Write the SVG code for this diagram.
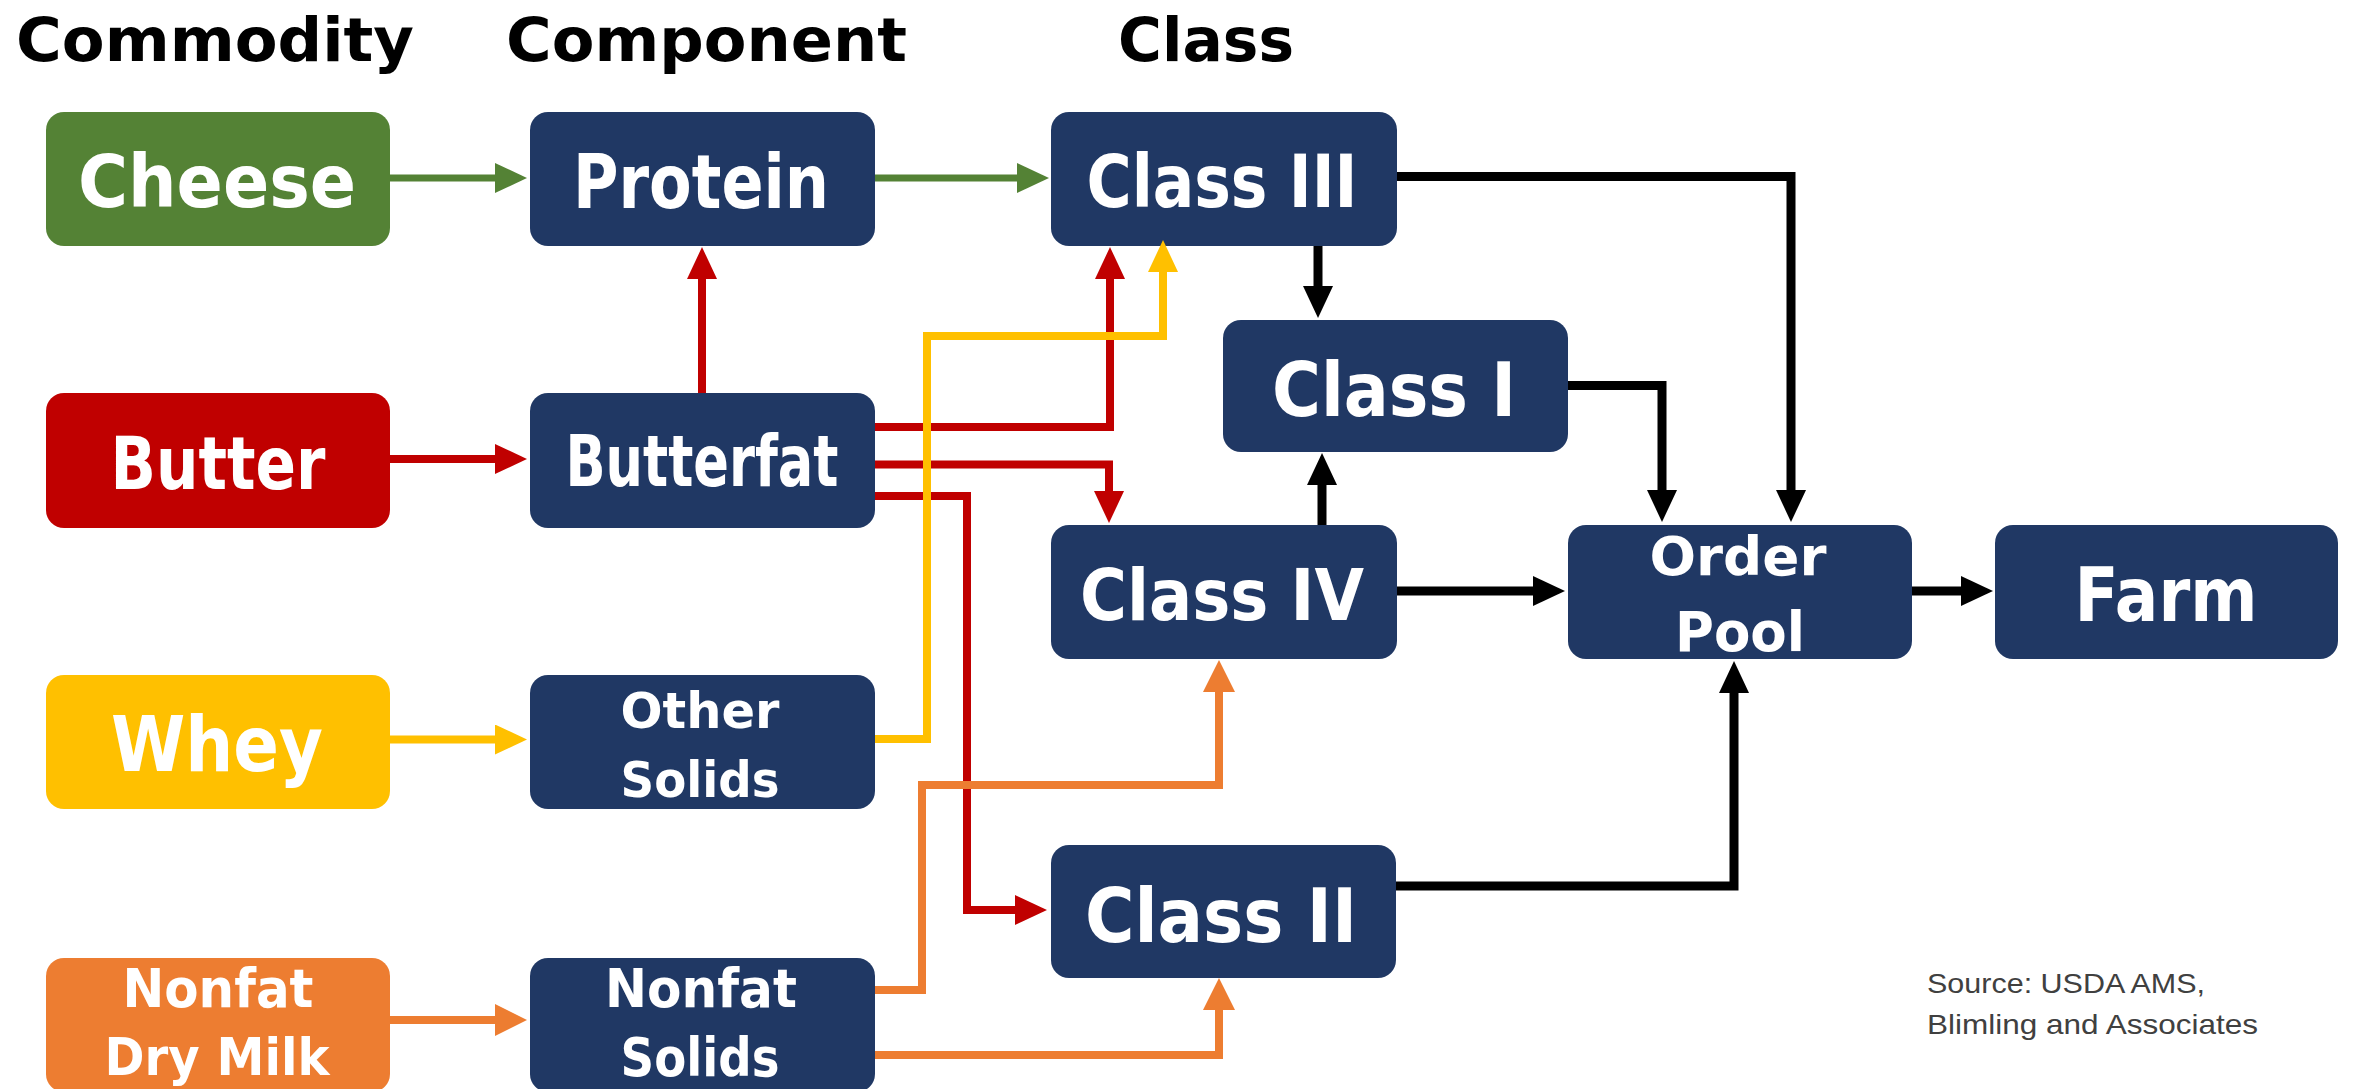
<svg xmlns="http://www.w3.org/2000/svg" width="2356" height="1089" viewBox="0 0 2356 1089">
<style>
.lbl { font-family: "DejaVu Sans", "Liberation Sans", sans-serif; font-weight: bold; fill: #ffffff; text-anchor: middle; }
.ttl { font-family: "DejaVu Sans", "Liberation Sans", sans-serif; font-weight: bold; fill: #000000; }
.src { font-family: "Liberation Sans", Arial, sans-serif; fill: #404040; font-size: 28px; }
.navy { fill: #203864; }
.c { fill: none; stroke-linejoin: miter; stroke-linecap: butt; }
.g { stroke: #548235; stroke-width: 7; }
.r { stroke: #C00000; stroke-width: 8; }
.y { stroke: #FFC000; stroke-width: 8; }
.o { stroke: #ED7D31; stroke-width: 8; }
.k { stroke: #000000; stroke-width: 9; }
</style>
<defs>
<marker id="ahG" markerUnits="userSpaceOnUse" markerWidth="32" markerHeight="30" refX="8" refY="15" orient="auto"><path d="M0,0 L32,15 L0,30 Z" fill="#548235"/></marker>
<marker id="ahR" markerUnits="userSpaceOnUse" markerWidth="32" markerHeight="30" refX="8" refY="15" orient="auto"><path d="M0,0 L32,15 L0,30 Z" fill="#C00000"/></marker>
<marker id="ahY" markerUnits="userSpaceOnUse" markerWidth="32" markerHeight="30" refX="8" refY="15" orient="auto"><path d="M0,0 L32,15 L0,30 Z" fill="#FFC000"/></marker>
<marker id="ahO" markerUnits="userSpaceOnUse" markerWidth="32" markerHeight="32" refX="8" refY="16" orient="auto"><path d="M0,0 L32,16 L0,32 Z" fill="#ED7D31"/></marker>
<marker id="ahK" markerUnits="userSpaceOnUse" markerWidth="32" markerHeight="30" refX="8" refY="15" orient="auto"><path d="M0,0 L32,15 L0,30 Z" fill="#000000"/></marker>
</defs>
<rect x="0" y="0" width="2356" height="1089" fill="#ffffff"/>

<g id="titles">
<text class="ttl" x="16" y="61" font-size="61" textLength="398" lengthAdjust="spacingAndGlyphs">Commodity</text>
<text class="ttl" x="506" y="61" font-size="61" textLength="401" lengthAdjust="spacingAndGlyphs">Component</text>
<text class="ttl" x="1118" y="61" font-size="61" textLength="176" lengthAdjust="spacingAndGlyphs">Class</text>
</g>

<g id="node-cheese"><rect x="46" y="112" width="344" height="134" rx="18" fill="#548235"/><text class="lbl" x="217" y="207" font-size="73" textLength="278" lengthAdjust="spacingAndGlyphs">Cheese</text></g>
<g id="node-butter"><rect x="46" y="393" width="344" height="135" rx="18" fill="#C00000"/><text class="lbl" x="218" y="489" font-size="73" textLength="215" lengthAdjust="spacingAndGlyphs">Butter</text></g>
<g id="node-whey"><rect x="46" y="675" width="344" height="134" rx="18" fill="#FFC000"/><text class="lbl" x="217" y="771" font-size="76" textLength="212" lengthAdjust="spacingAndGlyphs">Whey</text></g>
<g id="node-ndm"><rect x="46" y="958" width="344" height="134" rx="18" fill="#ED7D31"/><text class="lbl" x="218" y="1007" font-size="53" textLength="191" lengthAdjust="spacingAndGlyphs">Nonfat</text><text class="lbl" x="217" y="1075" font-size="52" textLength="225" lengthAdjust="spacingAndGlyphs">Dry Milk</text></g>

<g id="node-protein"><rect class="navy" x="530" y="112" width="345" height="134" rx="18"/><text class="lbl" x="701" y="208" font-size="74" textLength="256" lengthAdjust="spacingAndGlyphs">Protein</text></g>
<g id="node-butterfat"><rect class="navy" x="530" y="393" width="345" height="135" rx="18"/><text class="lbl" x="702" y="486" font-size="71" textLength="273" lengthAdjust="spacingAndGlyphs">Butterfat</text></g>
<g id="node-othersolids"><rect class="navy" x="530" y="675" width="345" height="134" rx="18"/><text class="lbl" x="700" y="728" font-size="50" textLength="159" lengthAdjust="spacingAndGlyphs">Other</text><text class="lbl" x="700" y="797" font-size="50" textLength="159" lengthAdjust="spacingAndGlyphs">Solids</text></g>
<g id="node-nonfatsolids"><rect class="navy" x="530" y="958" width="345" height="134" rx="18"/><text class="lbl" x="701" y="1007" font-size="53" textLength="192" lengthAdjust="spacingAndGlyphs">Nonfat</text><text class="lbl" x="700" y="1076" font-size="53" textLength="159" lengthAdjust="spacingAndGlyphs">Solids</text></g>

<g id="node-class3"><rect class="navy" x="1051" y="112" width="346" height="134" rx="18"/><text class="lbl" x="1222" y="207" font-size="73" textLength="271" lengthAdjust="spacingAndGlyphs">Class III</text></g>
<g id="node-class1"><rect class="navy" x="1223" y="320" width="345" height="132" rx="18"/><text class="lbl" x="1394" y="416" font-size="75" textLength="244" lengthAdjust="spacingAndGlyphs">Class I</text></g>
<g id="node-class4"><rect class="navy" x="1051" y="525" width="346" height="134" rx="18"/><text class="lbl" x="1222" y="620" font-size="72" textLength="284" lengthAdjust="spacingAndGlyphs">Class IV</text></g>
<g id="node-class2"><rect class="navy" x="1051" y="845" width="345" height="133" rx="18"/><text class="lbl" x="1221" y="942" font-size="74" textLength="272" lengthAdjust="spacingAndGlyphs">Class II</text></g>
<g id="node-orderpool"><rect class="navy" x="1568" y="525" width="344" height="134" rx="18"/><text class="lbl" x="1738" y="575" font-size="54" textLength="177" lengthAdjust="spacingAndGlyphs">Order</text><text class="lbl" x="1740" y="651" font-size="56" textLength="130" lengthAdjust="spacingAndGlyphs">Pool</text></g>
<g id="node-farm"><rect class="navy" x="1995" y="525" width="343" height="134" rx="18"/><text class="lbl" x="2166" y="621" font-size="75" textLength="183" lengthAdjust="spacingAndGlyphs">Farm</text></g>

<g id="connectors">
<path class="c r" d="M390,459 H503" marker-end="url(#ahR)"/>
<path class="c r" d="M702,393 V271" marker-end="url(#ahR)"/>
<path class="c r" d="M875,427 H1110 V271" marker-end="url(#ahR)"/>
<path class="c r" d="M875,464.5 H1109 V499" marker-end="url(#ahR)"/>
<path class="c r" d="M875,496 H967 V910 H1023" marker-end="url(#ahR)"/>
<path class="c y" d="M390,739.5 H503" marker-end="url(#ahY)"/>
<path class="c y" d="M875,739 H927 V336 H1163 V264" marker-end="url(#ahY)"/>
<path class="c o" d="M390,1020 H503" marker-end="url(#ahO)"/>
<path class="c o" d="M875,990 H922 V785 H1219 V684" marker-end="url(#ahO)"/>
<path class="c o" d="M875,1055 H1219 V1002" marker-end="url(#ahO)"/>
<path class="c g" d="M390,178 H503" marker-end="url(#ahG)"/>
<path class="c g" d="M875,178 H1025" marker-end="url(#ahG)"/>
<path class="c k" d="M1397,176.5 H1791 V498" marker-end="url(#ahK)"/>
<path class="c k" d="M1318,246 V294" marker-end="url(#ahK)"/>
<path class="c k" d="M1322,525 V477" marker-end="url(#ahK)"/>
<path class="c k" d="M1568,385.5 H1662 V498" marker-end="url(#ahK)"/>
<path class="c k" d="M1397,591 H1541" marker-end="url(#ahK)"/>
<path class="c k" d="M1912,591 H1969" marker-end="url(#ahK)"/>
<path class="c k" d="M1396,886 H1734 V685" marker-end="url(#ahK)"/>
</g>

<g id="source">
<text class="src" x="1927" y="993" textLength="278" lengthAdjust="spacingAndGlyphs">Source: USDA AMS,</text>
<text class="src" x="1927" y="1034" textLength="331" lengthAdjust="spacingAndGlyphs">Blimling and Associates</text>
</g>
</svg>
